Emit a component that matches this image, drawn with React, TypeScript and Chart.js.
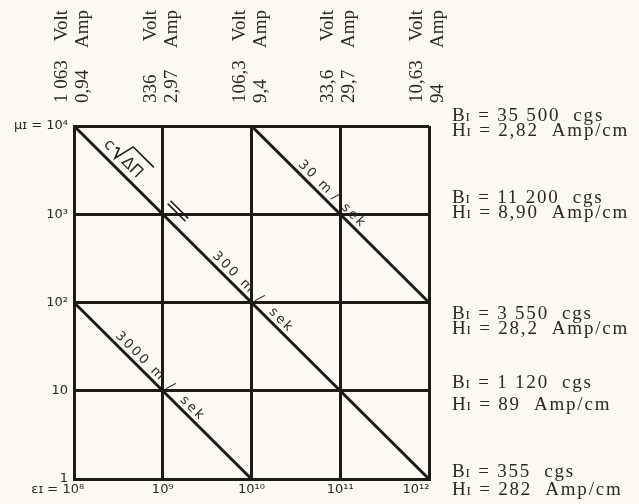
import React, { useEffect, useRef } from 'react';
import { Chart, registerables } from 'chart.js';

Chart.register(...registerables);

// ---- data ----
const epsTicks = [1e8, 1e9, 1e10, 1e11, 1e12];
const epsTickLabels = ['ɛɪ = 10⁸', '10⁹', '10¹⁰', '10¹¹', '10¹²'];
const muTicks = [1, 10, 1e2, 1e3, 1e4];
const muTickLabels = ['1', '10', '10²', '10³', 'μɪ = 10⁴'];

const voltLabels = ['1 063', '336', '106,3', '33,6', '10,63'];
const ampLabels = ['0,94', '2,97', '9,4', '29,7', '94'];

const bRows = [1e4, 1e3, 1e2, 10, 1];
const bValues = ['35 500', '11 200', '3 550', '1 120', '355'];
const hValues = ['2,82', '8,90', '28,2', '89', '282'];

const eps300 = [1e8, 1e12];
const mu300 = [1e4, 1];
const eps30 = [1e10, 1e12];
const mu30 = [1e4, 1e2];
const eps3000 = [1e8, 1e10];
const mu3000 = [1e2, 1];

const speedNames = ['30 m', '300 m', '3000 m'];
const speedAnchorEps = [1e11, 1e10, 1e9];
const speedAnchorMu = [1e3, 1e2, 10];

// ---- style ----
const BG = '#fcfaf0';
const INK = '#1d1a17';
const TEXT = '#2b2824';
const SERIF = '"Liberation Serif", "Times New Roman", serif';
const SANS = '"DejaVu Sans", sans-serif';
const xPad = ['\u2002\u2002\u2002\u2002\u2002', '', '', '', '\u2002\u2002\u2002\u2002'];
const speedPreEnd = [-24, -9, -10];
const speedSlash = [-16, 3, 2.5];
const speedPostStart = [-4, 19, 19];
const rightRowOffsets = [[-5, 10], [-11, 4], [16, 31], [-3, 19], [-2, 16]];

const toPts = (xs: number[], ys: number[]) => xs.map((x, i) => ({ x, y: ys[i] }));

const annotPlugin = {
  id: 'annot',
  beforeDraw(chart: any) {
    const ctx = chart.ctx;
    ctx.save();
    ctx.fillStyle = BG;
    ctx.fillRect(0, 0, chart.width, chart.height);
    ctx.restore();
  },
  afterDatasetsDraw(chart: any) {
    const ctx = chart.ctx as CanvasRenderingContext2D;
    const xs = chart.scales.x;
    const ys = chart.scales.y;
    const px = (v: number) => xs.getPixelForValue(v);
    const py = (v: number) => ys.getPixelForValue(v);
    const area = chart.chartArea;
    const ang = Math.atan2(py(mu300[1]) - py(mu300[0]), px(eps300[1]) - px(eps300[0]));

    ctx.save();
    ctx.fillStyle = TEXT;
    ctx.strokeStyle = INK;
    ctx.textBaseline = 'alphabetic';

    // c sqrt(ΔΠ) label
    ctx.save();
    ctx.translate(px(eps300[0]), py(mu300[0]));
    ctx.rotate(ang);
    ctx.font = `16px ${SANS}`;
    ctx.textAlign = 'left';
    const b = -7;
    const x0 = 34;
    ctx.fillText('c', x0, b);
    const rx = x0 + ctx.measureText('c').width + 2;
    const tx = rx + 14;
    ctx.fillText('ΔΠ', tx, b);
    const tw = ctx.measureText('ΔΠ').width;
    ctx.lineWidth = 1.6;
    ctx.beginPath();
    ctx.moveTo(rx, b - 7);
    ctx.lineTo(rx + 3, b - 9);
    ctx.lineTo(rx + 7, b + 1);
    ctx.lineTo(rx + 12, b - 20);
    ctx.lineTo(tx + tw + 4, b - 20);
    ctx.stroke();
    ctx.restore();

    // "=" sign at the 10^9 / 10^3 crossing
    ctx.save();
    ctx.translate(px(1e9), py(1e3));
    ctx.rotate(ang);
    ctx.lineWidth = 1.6;
    ctx.beginPath();
    ctx.moveTo(-4, -11); ctx.lineTo(21, -11);
    ctx.moveTo(-4, -15); ctx.lineTo(21, -15);
    ctx.stroke();
    ctx.restore();

    // speed labels
    speedNames.forEach((name, i) => {
      ctx.save();
      ctx.translate(px(speedAnchorEps[i]), py(speedAnchorMu[i]));
      ctx.rotate(ang);
      ctx.font = `13px ${SANS}`;
      (ctx as any).letterSpacing = '2.5px';
      ctx.textAlign = 'left';
      const w = ctx.measureText(name).width;
      ctx.fillText(name, speedPreEnd[i] - w + 2.5, -5);
      (ctx as any).letterSpacing = '0px';
      ctx.textAlign = 'center';
      ctx.fillText('/', speedSlash[i], -5);
      (ctx as any).letterSpacing = '2.5px';
      ctx.textAlign = 'left';
      ctx.fillText('sek', speedPostStart[i], -5);
      ctx.restore();
    });

    // top rotated Volt / Amp labels
    ctx.font = `19px ${SERIF}`;
    (ctx as any).letterSpacing = '0px';
    const yStart = area.top - 23;
    const len = area.top - 33;
    epsTicks.forEach((e, i) => {
      const x = px(e);
      const rows: [string, string, number][] = [
        [voltLabels[i], 'Volt', -7],
        [ampLabels[i], 'Amp', 14],
      ];
      rows.forEach(([num, unit, off]) => {
        ctx.save();
        ctx.translate(x + off, yStart);
        ctx.rotate(-Math.PI / 2);
        ctx.textAlign = 'left';
        ctx.fillText(num, 0, 0);
        ctx.textAlign = 'right';
        ctx.fillText(unit, len, 0);
        ctx.restore();
      });
    });

    // right B / H labels
    const drawSub = (main: string, rest: string, x: number, y: number) => {
      ctx.textAlign = 'left';
      (ctx as any).letterSpacing = '1.8px';
      ctx.font = `19px ${SERIF}`;
      ctx.fillText(main, x, y);
      let w = ctx.measureText(main).width;
      ctx.font = `13px ${SERIF}`;
      ctx.fillText('I', x + w - 1, y);
      w += ctx.measureText('I').width - 1;
      ctx.font = `19px ${SERIF}`;
      ctx.fillText(rest, x + w, y);
    };
    const rx0 = area.right + 23;
    bRows.forEach((m, i) => {
      const y = py(m);
      drawSub('B', ' = ' + bValues[i] + '  cgs', rx0, y + rightRowOffsets[i][0]);
      drawSub('H', ' = ' + hValues[i] + '  Amp/cm', rx0, y + rightRowOffsets[i][1]);
    });
    (ctx as any).letterSpacing = '0px';
    ctx.restore();
  },
};

export default function App() {
  const ref = useRef<HTMLCanvasElement>(null);
  useEffect(() => {
    const lineStyle = {
      showLine: true,
      borderColor: INK,
      backgroundColor: INK,
      borderWidth: 3,
      pointRadius: 0,
      fill: false,
    };
    const chart = new Chart(ref.current as HTMLCanvasElement, {
      type: 'scatter',
      data: {
        datasets: [
          { ...lineStyle, label: '300 m/sek', data: toPts(eps300, mu300) },
          { ...lineStyle, label: '30 m/sek', data: toPts(eps30, mu30) },
          { ...lineStyle, label: '3000 m/sek', data: toPts(eps3000, mu3000) },
        ],
      } as any,
      options: {
        responsive: false,
        maintainAspectRatio: false,
        animation: false,
        devicePixelRatio: 1,
        layout: { padding: { top: 126, right: 210, left: 0, bottom: 0 } },
        plugins: { legend: { display: false }, tooltip: { enabled: false } },
        scales: {
          x: {
            type: 'logarithmic',
            min: 1e8,
            max: 1e12,
            afterBuildTicks: (s: any) => { s.ticks = epsTicks.map((v) => ({ value: v })); },
            afterFit: (s: any) => { s.height = 25; },
            grid: { color: INK, lineWidth: 3, drawTicks: false },
            border: { display: true, color: INK, width: 3 },
            ticks: {
              autoSkip: false,
              maxRotation: 0,
              padding: 3,
              color: TEXT,
              font: { family: SANS, size: 13 },
              callback: (_v: any, i: number) => epsTickLabels[i] + xPad[i],
            },
          },
          y: {
            type: 'logarithmic',
            min: 1,
            max: 1e4,
            afterBuildTicks: (s: any) => { s.ticks = muTicks.map((v) => ({ value: v })); },
            afterFit: (s: any) => { s.width = 74; },
            grid: { color: INK, lineWidth: 3, drawTicks: false },
            border: { display: true, color: INK, width: 3 },
            ticks: {
              autoSkip: false,
              padding: 6,
              color: TEXT,
              font: { family: SANS, size: 13 },
              callback: (_v: any, i: number) => muTickLabels[i],
            },
          },
        },
      } as any,
      plugins: [annotPlugin],
    });
    return () => chart.destroy();
  }, []);
  return (
    <div style={{ position: 'fixed', left: 0, top: 0, width: 639, height: 504, background: BG }}>
      <canvas ref={ref} width={639} height={504} style={{ width: 639, height: 504, display: 'block' }} />
    </div>
  );
}
